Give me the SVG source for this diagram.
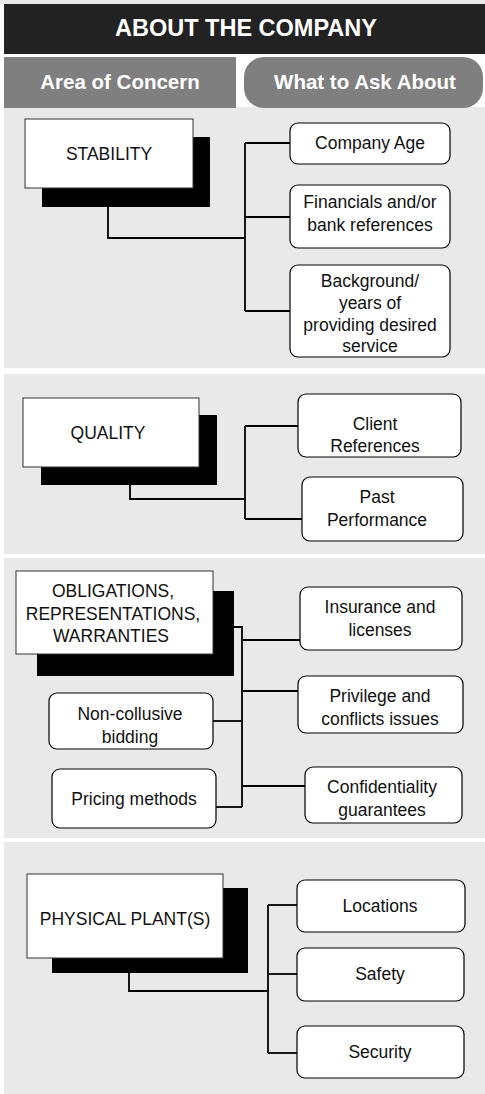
<svg xmlns="http://www.w3.org/2000/svg" width="485" height="1094" viewBox="0 0 485 1094">
<style>
.panel{fill:#e9e9e9}
.shadow{fill:#000}
.main{fill:#fff;stroke:#333;stroke-width:1}
.leaf{fill:#fff;stroke:#000;stroke-width:1.2}
.t{font-family:"Liberation Sans",Arial,sans-serif;font-size:17.5px;fill:#111;text-anchor:middle}
.h{font-family:"Liberation Sans",Arial,sans-serif;font-weight:bold;fill:#fff;text-anchor:middle}
.conn{fill:none;stroke:#000;stroke-width:1.8}
</style>
<rect x="0" y="0" width="485" height="1094" fill="#fff"/>
<rect x="0" y="0" width="485" height="4" fill="#e9e9e9"/>
<g id="panels">
<rect class="panel" x="4" y="107" width="481" height="261"/>
<rect class="panel" x="4" y="374" width="481" height="180"/>
<rect class="panel" x="4" y="558" width="481" height="280"/>
<rect class="panel" x="4" y="842" width="481" height="252"/>
</g>
<g id="header">
<rect x="4" y="4" width="481" height="50" fill="#222"/>
<text class="h" x="246" y="36" font-size="23.5">ABOUT THE COMPANY</text>
</g>
<g id="col-area">
<rect x="4" y="57" width="232" height="51" fill="#7f7f7f"/>
<text class="h" x="120" y="89" font-size="20.5">Area of Concern</text>
</g>
<g id="col-ask">
<rect x="244" y="57" width="239" height="51" rx="20" fill="#7f7f7f"/>
<text class="h" x="365" y="89" font-size="20.5">What to Ask About</text>
</g>
<g id="connectors">
<polyline class="conn" points="108,207 108,238 245,238"/>
<line class="conn" x1="245" y1="143" x2="245" y2="311"/>
<line class="conn" x1="245" y1="143" x2="290" y2="143"/>
<line class="conn" x1="245" y1="217" x2="290" y2="217"/>
<line class="conn" x1="245" y1="311" x2="290" y2="311"/>
<polyline class="conn" points="130,485 130,499 245,499"/>
<line class="conn" x1="245" y1="426" x2="245" y2="519"/>
<line class="conn" x1="245" y1="426" x2="298" y2="426"/>
<line class="conn" x1="245" y1="519" x2="302" y2="519"/>
<polyline class="conn" points="213,627 242,627 242,807"/>
<line class="conn" x1="242" y1="640" x2="300" y2="640"/>
<line class="conn" x1="242" y1="691" x2="298" y2="691"/>
<line class="conn" x1="242" y1="786" x2="305" y2="786"/>
<line class="conn" x1="213" y1="721" x2="242" y2="721"/>
<line class="conn" x1="216" y1="807" x2="242" y2="807"/>
<polyline class="conn" points="129,973 129,991 268,991"/>
<line class="conn" x1="268" y1="905" x2="268" y2="1053"/>
<line class="conn" x1="268" y1="905" x2="297" y2="905"/>
<line class="conn" x1="268" y1="974" x2="297" y2="974"/>
<line class="conn" x1="268" y1="1053" x2="297" y2="1053"/>
</g>
<g id="stability">
<rect class="shadow" x="42" y="137" width="168" height="70"/>
<rect class="main" x="25" y="119" width="168" height="69"/>
<text class="t" x="109" y="160">STABILITY</text>
</g>
<g id="company-age">
<rect class="leaf" x="290" y="123" width="160" height="41" rx="8"/>
<text class="t" x="370" y="149">Company Age</text>
</g>
<g id="financials">
<rect class="leaf" x="290" y="185" width="160" height="63" rx="8"/>
<text class="t" x="370" y="208">Financials and/or</text>
<text class="t" x="370" y="231">bank references</text>
</g>
<g id="background">
<rect class="leaf" x="290" y="265" width="160" height="92" rx="8"/>
<text class="t" x="370" y="287">Background/</text>
<text class="t" x="370" y="309">years of</text>
<text class="t" x="370" y="331">providing desired</text>
<text class="t" x="370" y="352">service</text>
</g>
<g id="quality">
<rect class="shadow" x="41" y="415" width="176" height="70"/>
<rect class="main" x="23" y="398" width="176" height="69"/>
<text class="t" x="108" y="439">QUALITY</text>
</g>
<g id="client-references">
<rect class="leaf" x="298" y="394" width="163" height="63" rx="8"/>
<text class="t" x="375" y="430">Client</text>
<text class="t" x="375" y="452">References</text>
</g>
<g id="past-performance">
<rect class="leaf" x="302" y="477" width="161" height="64" rx="8"/>
<text class="t" x="377" y="503">Past</text>
<text class="t" x="377" y="526">Performance</text>
</g>
<g id="obligations">
<rect class="shadow" x="37" y="591" width="197" height="85"/>
<rect class="main" x="16" y="571" width="197" height="83"/>
<text class="t" x="113" y="597">OBLIGATIONS,</text>
<text class="t" x="113" y="620">REPRESENTATIONS,</text>
<text class="t" x="111" y="642">WARRANTIES</text>
</g>
<g id="insurance">
<rect class="leaf" x="300" y="587" width="162" height="63" rx="8"/>
<text class="t" x="380" y="613">Insurance and</text>
<text class="t" x="380" y="636">licenses</text>
</g>
<g id="privilege">
<rect class="leaf" x="298" y="676" width="165" height="57" rx="8"/>
<text class="t" x="380" y="702">Privilege and</text>
<text class="t" x="380" y="725">conflicts issues</text>
</g>
<g id="confidentiality">
<rect class="leaf" x="305" y="767" width="157" height="56" rx="8"/>
<text class="t" x="382" y="793">Confidentiality</text>
<text class="t" x="382" y="816">guarantees</text>
</g>
<g id="non-collusive">
<rect class="leaf" x="49" y="693" width="164" height="56" rx="8"/>
<text class="t" x="130" y="720">Non-collusive</text>
<text class="t" x="130" y="743">bidding</text>
</g>
<g id="pricing">
<rect class="leaf" x="52" y="769" width="164" height="59" rx="8"/>
<text class="t" x="134" y="805">Pricing methods</text>
</g>
<g id="physical-plant">
<rect class="shadow" x="52" y="888" width="196" height="85"/>
<rect class="main" x="27" y="874" width="196" height="84"/>
<text class="t" x="125" y="925">PHYSICAL PLANT(S)</text>
</g>
<g id="locations">
<rect class="leaf" x="297" y="880" width="168" height="52" rx="8"/>
<text class="t" x="380" y="912">Locations</text>
</g>
<g id="safety">
<rect class="leaf" x="297" y="948" width="167" height="53" rx="8"/>
<text class="t" x="380" y="980">Safety</text>
</g>
<g id="security">
<rect class="leaf" x="297" y="1026" width="167" height="52" rx="8"/>
<text class="t" x="380" y="1058">Security</text>
</g>
</svg>
